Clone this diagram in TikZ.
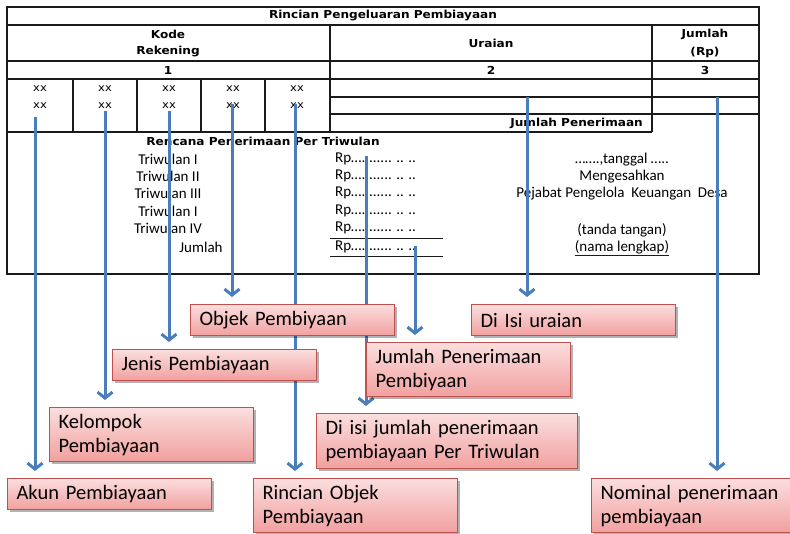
\documentclass[tikz,border=0pt]{standalone}
\usepackage{fontspec}
\setmainfont{Carlito}
\newfontfamily\tabfont[FakeStretch=1.1]{DejaVu Sans}
\usetikzlibrary{arrows.meta,shadows,calc}

\definecolor{arrowblue}{HTML}{4A7EBB}
\definecolor{boxred}{HTML}{C0504D}
\definecolor{pinktop}{HTML}{FBDEDE}
\definecolor{pinkbot}{HTML}{F1A09F}
\definecolor{rulegray}{HTML}{1A1A1A}

\tikzset{
  rule/.style={draw=rulegray, line width=1.1pt},
  hdr/.style={font=\tabfont\bfseries\fontsize{11}{13}\selectfont, inner sep=0pt},
  cellxx/.style={font=\tabfont\fontsize{10.5}{12}\selectfont, inner sep=0pt},
  body/.style={font=\fontsize{15}{17}\selectfont, inner sep=0pt},
  flowarrow/.style={draw=arrowblue, line width=3pt,
    -{Straight Barb[length=6pt,width=15pt]}, shorten >=7pt},
  labelbox/.style={draw=boxred, line width=1.2pt,
    top color=pinktop, bottom color=pinkbot,
    drop shadow={shadow xshift=2pt, shadow yshift=-2pt, fill=black, opacity=0.3},
    anchor=north west, inner xsep=9pt, inner ysep=0pt,
    align=left, font=\fontsize{20.5}{24}\selectfont},
  onebox/.style={labelbox, text width=186pt, minimum height=31pt},
  twobox/.style={labelbox, text width=186pt, minimum height=54pt},
}

\begin{document}
\begin{tikzpicture}[x=1pt,y=-1pt]
\useasboundingbox[fill=white] (0,0) rectangle (790,534);

% ---- table frame ----
\draw[rule, line width=1.5pt] (7,7) rectangle (759,274);
\draw[rule] (7,25) -- (759,25);
\draw[rule] (7,61) -- (759,61);
\draw[rule] (7,79) -- (759,79);
\draw[rule] (7,132) -- (652,132);
\draw[rule] (330,25) -- (330,132);
\draw[rule] (652,25) -- (652,132);
\foreach \x in {73,137,201,265} \draw[rule] (\x,79) -- (\x,132);
\draw[rule] (330,97) -- (759,97);
\draw[rule] (330,114) -- (759,114);

% ---- header texts ----
\node[hdr] (title) at (383,16) {Rincian Pengeluaran Pembiayaan};
\node[hdr] (kode) at (168,34) {Kode};
\node[hdr] (rek) at (168,52) {Rekening};
\node[hdr] (uraian) at (491,43) {Uraian};
\node[hdr] (jml) at (705,34) {Jumlah};
\node[hdr] (rp) at (705,52) {(Rp)};
\node[hdr] (n1) at (168,70) {1};
\node[hdr] (n2) at (491,70) {2};
\node[hdr] (n3) at (705,70) {3};
\foreach \x [count=\i] in {40,105,169,233,297} {
  \node[cellxx] (xa\i) at (\x,89) {xx};
  \node[cellxx] (xb\i) at (\x,106) {xx};
}
\node[hdr, anchor=east] (jpen) at (643,123) {Jumlah Penerimaan};

% ---- quarterly plan ----
\node[hdr] (rencana) at (263,141) {Rencana Penerimaan Per Triwulan};
\node[body] (t1) at (168,159) {Triwulan I};
\node[body] (t2) at (168,176) {Triwulan II};
\node[body] (t3) at (168,193) {Triwulan III};
\node[body] (t4) at (168,211) {Triwulan I};
\node[body] (t5) at (168,228) {Triwulan IV};
\node[body] (tj) at (201,247) {Jumlah};
\foreach \y [count=\i] in {159,176,193,211,228,247}
  \node[body, anchor=west] (rp\i) at (335,\y) {Rp…........ .. ..};
\draw[rule, line width=0.9pt] (330,238) -- (443,238);
\draw[rule, line width=0.9pt] (330,256) -- (443,256);

\node[body] (tgl) at (622,160) {…….,tanggal …..};
\node[body] (sah) at (622,177) {Mengesahkan};
\node[body] (pejabat) at (622,194) {Pejabat Pengelola\ \ Keuangan\ \ Desa};
\node[body] (ttd) at (622,230) {(tanda tangan)};
\node[body] (nama) at (622,247) {(nama lengkap)};
\draw[rule, line width=0.9pt] ($(nama.south west)+(0,1)$) -- ($(nama.south east)+(0,1)$);

% ---- arrow start points ----
\coordinate (s1) at (35,117);
\coordinate (s2) at (105,111);
\coordinate (s3) at (169,111);
\coordinate (s4) at (232,104);
\coordinate (s5) at (295,104);
\coordinate (s6) at (366,156);
\coordinate (s7) at (415,246);
\coordinate (s8) at (527,97);
\coordinate (s9) at (717,97);

% ---- label box positions (drawn after arrows) ----
\path
  (7,478)   coordinate (pakun)
  (49,407)  coordinate (pkel)
  (112,349) coordinate (pjen)
  (190,304) coordinate (pobj)
  (253,478) coordinate (prin)
  (316,413) coordinate (pdii)
  (366,342) coordinate (pjpp)
  (471,304) coordinate (pura)
  (591,478) coordinate (pnom);

\draw[flowarrow] (s1) -- (s1 |- pakun);
\draw[flowarrow] (s2) -- (s2 |- pkel);
\draw[flowarrow] (s3) -- (s3 |- pjen);
\draw[flowarrow] (s4) -- (s4 |- pobj);
\draw[flowarrow] (s5) -- (s5 |- prin);
\draw[flowarrow] (s6) -- (s6 |- pdii);
\draw[flowarrow] (s7) -- (s7 |- pjpp);
\draw[flowarrow] (s8) -- (s8 |- pura);
\draw[flowarrow] (s9) -- (s9 |- pnom);

\node[onebox] (obj) at (pobj) {Objek Pembiyaan};
\node[onebox] (ura) at (pura) {Di Isi uraian};
\node[onebox] (jen) at (pjen) {Jenis Pembiayaan};
\node[twobox] (jpp) at (pjpp) {Jumlah Penerimaan\\Pembiyaan};
\node[twobox] (kel) at (pkel) {Kelompok\\Pembiayaan};
\node[twobox, text width=243pt, minimum height=55pt] (dii) at (pdii) {Di isi jumlah penerimaan\\pembiayaan Per Triwulan};
\node[onebox] (akun) at (pakun) {Akun Pembiayaan};
\node[twobox] (rin) at (prin) {Rincian Objek\\Pembiayaan};
\node[twobox] (nom) at (pnom) {Nominal penerimaan\\pembiayaan};
\end{tikzpicture}
\end{document}
